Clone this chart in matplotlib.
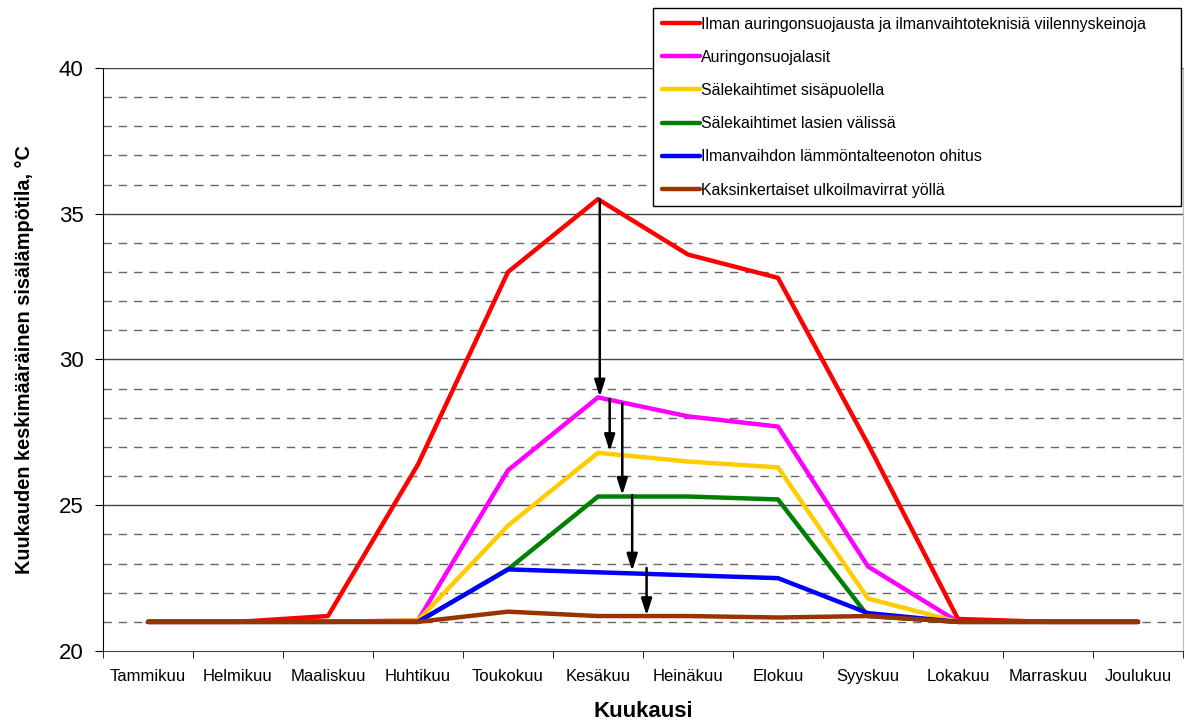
import matplotlib
matplotlib.use('Agg')
import matplotlib.pyplot as plt
import numpy as np

plt.rcParams['font.family'] = ['Liberation Sans', 'DejaVu Sans']

# Data
months = ["Tammikuu", "Helmikuu", "Maaliskuu", "Huhtikuu", "Toukokuu", "Kesäkuu",
          "Heinäkuu", "Elokuu", "Syyskuu", "Lokakuu", "Marraskuu", "Joulukuu"]
series_labels = [
    "Ilman auringonsuojausta ja ilmanvaihtoteknisiä viilennyskeinoja",
    "Auringonsuojalasit",
    "Sälekaihtimet sisäpuolella",
    "Sälekaihtimet lasien välissä",
    "Ilmanvaihdon lämmöntalteenoton ohitus",
    "Kaksinkertaiset ulkoilmavirrat yöllä",
]
series_colors = ["#FF0000", "#FF00FF", "#FFCC00", "#008000", "#0000FF", "#993300"]
red = [21.0, 21.0, 21.2, 26.4, 33.0, 35.5, 33.6, 32.8, 27.1, 21.1, 21.0, 21.0]
magenta = [21.0, 21.0, 21.0, 21.05, 26.2, 28.7, 28.05, 27.7, 22.9, 21.0, 21.0, 21.0]
yellow = [21.0, 21.0, 21.0, 21.05, 24.3, 26.8, 26.5, 26.3, 21.8, 21.0, 21.0, 21.0]
green = [21.0, 21.0, 21.0, 21.0, 22.8, 25.3, 25.3, 25.2, 21.2, 21.0, 21.0, 21.0]
blue = [21.0, 21.0, 21.0, 21.0, 22.8, 22.7, 22.6, 22.5, 21.3, 21.0, 21.0, 21.0]
brown = [21.0, 21.0, 21.0, 21.0, 21.35, 21.2, 21.2, 21.15, 21.2, 21.0, 21.0, 21.0]
series = [red, magenta, yellow, green, blue, brown]

# Arrows: (x position, start value, end value)
arrow_x = [5.02, 5.13, 5.27, 5.38, 5.54]
arrow_start = [35.5, 28.65, 28.5, 25.35, 22.85]
arrow_end = [28.72, 26.85, 25.35, 22.75, 21.22]

fig = plt.figure(figsize=(11.85, 7.2), dpi=100)
ax = fig.add_axes([0.0869, 0.0958, 0.9114, 0.8098])

x = np.arange(len(months))

# gridlines
for v in range(21, 40):
    if v % 5 == 0:
        continue
    ax.axhline(v, color='#666666', lw=1.0, ls=(0, (6, 5)), zorder=0)
for v in (25, 30, 35, 40):
    ax.axhline(v, color='#444444', lw=1.0, zorder=0)

for vals, col, lab in zip(series, series_colors, series_labels):
    ax.plot(x, vals, color=col, lw=3.2, label=lab, solid_capstyle='round', zorder=3)

for ax_x, y0, y1 in zip(arrow_x, arrow_start, arrow_end):
    ax.annotate('', xy=(ax_x, y1), xytext=(ax_x, y0),
                arrowprops=dict(arrowstyle='-|>,head_length=1.0,head_width=0.32',
                                color='black', lw=1.8, shrinkA=0, shrinkB=0),
                zorder=5)

ax.set_xlim(-0.5, 11.5)
ax.set_ylim(20, 40)
ax.set_yticks([20, 25, 30, 35, 40])
ax.tick_params(axis='y', labelsize=16, length=6, direction='out', pad=8)
ax.set_xticks(x)
ax.set_xticklabels(months, fontsize=12)
ax.set_xticks(np.arange(-0.5, 12, 1), minor=True)
ax.tick_params(axis='x', which='major', length=0, pad=13)
ax.tick_params(axis='x', which='minor', length=5, direction='out')

ax.spines['top'].set_visible(False)
ax.spines['right'].set_color('#BBBBBB')
ax.spines['left'].set_color('black')
ax.spines['bottom'].set_color('#444444')

ax.set_xlabel('Kuukausi', fontsize=16, fontweight='bold', labelpad=12)
ax.set_ylabel('Kuukauden keskimääräinen sisälämpötila, °C', fontsize=14.3,
              fontweight='bold', labelpad=18)

leg = ax.legend(loc='upper left', bbox_to_anchor=(0.5093, 0.0, 0.4889, 1.103),
                mode='expand', fontsize=11.4,
                frameon=True, fancybox=False, edgecolor='black', handlelength=2.4,
                handletextpad=0.1, labelspacing=1.15, borderpad=0.55,
                borderaxespad=0, framealpha=1)
leg.get_frame().set_linewidth(1.0)
leg.set_zorder(10)

fig.savefig('out.png', dpi=100)
